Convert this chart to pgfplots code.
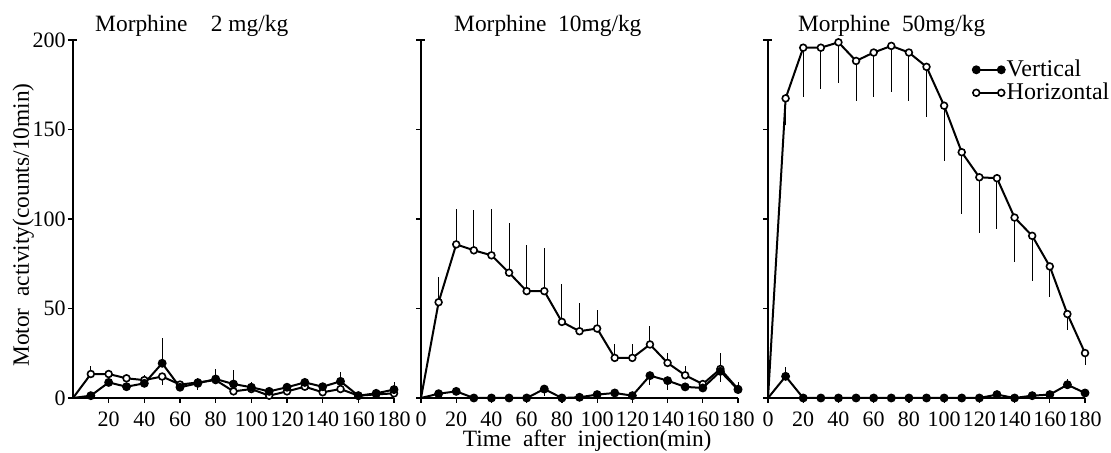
\documentclass[border=0pt]{standalone}
\usepackage{fontspec}
\setmainfont{Liberation Serif}
\usepackage{pgfplots}
\usepackage{pgfplotstable}
\pgfplotsset{compat=1.18}

% t = min after injection; V/H = vertical/horizontal counts, p/m = error up/down
\pgfplotstableread{
t   V    Vp  Vm  H     Hp   Hm
0   0    0   0   0     0    0
10  1.3  0   0   13.4  4.5  0
20  8.7  0   0   13.4  2    0
30  6.3  0   0   11    2    0
40  8.2  0   0   10    3    0
50  19.4 14  0   12    0    5
60  6    2   0   7.5   0    0
70  8.2  3   4   8.7   0    0
80  10.6 5.5 0   10    0    0
90  7.8  8   0   3.7   0    0
100 6    3   0   5     0    0
110 3.7  0   0   1.3   0    0
120 6    2.5 0   3.7   0    0
130 8.7  2   0   6.3   0    0
140 6.3  0   0   3.2   0    0
150 9.3  5   0   5     0    0
160 1.3  0   0   1.3   0    0
170 2.6  0   0   2     0    0
180 4.7  4   0   2.6   0    0
}\dataA

\pgfplotstableread{
t   V    Vp  Vm  H     Hp   Hm
0   0    0   0   0     0    0
10  2.4  0   0   53.5  14   0
20  3.7  0   0   85.8  20   0
30  0    0   0   82.5  22.5 0
40  0    0   0   79.7  25.7 0
50  0    0   0   70    28   0
60  0    0   0   59.7  26   0
70  5    0   4   59.7  24   0
80  0    0   0   42.5  21   0
90  0.4  0   0   37.3  16   0
100 1.9  0   0   38.8  10.5 0
110 2.8  0   0   22.4  7.8  0
120 1.3  0   0   22.4  7.5  0
130 12.5 0   5   29.9  10.2 0
140 9.7  0   5   19.6  5.6  0
150 6.2  0   0   12.7  5    0
160 5.6  0   0   7.8   1.5  0
170 14.9 0   6   16.2  9    0
180 4.7  4   0   5     0    0
}\dataB

\pgfplotstableread{
t   V    Vp  Vm  H     Hp   Hm
0   0    0   0   0     0    0
10  12.1 5   0   167.4 0    15
20  0    0   0   195.7 0    27.7
30  0    0   0   195.7 0    23
40  0    0   0   198.7 0    23
50  0    0   0   188.3 0    22.3
60  0    0   0   193   0    24.6
70  0    0   0   196.7 0    25.7
80  0    0   0   193   0    27
90  0    0   0   185   0    27.8
100 0    0   0   163.3 0    30.8
110 0    0   0   137.3 0    34.6
120 0    0   0   123.3 0    31.3
130 1.9  0   0   122.8 0    28.3
140 0    0   0   100.8 0    25.1
150 1.3  0   0   90.6  0    25.5
160 1.9  0   0   73.5  0    16.8
170 7.4  3   0   46.9  0    8.9
180 2.8  0   0   25.1  0    6.5
}\dataC

\tikzset{
  ttl/.style={anchor=base, yshift=4pt, font=\fontsize{11.7}{14}\selectfont},
  lbl/.style={font=\fontsize{11.7}{14}\selectfont},
}

\pgfplotsset{
  panel/.style={
    scale only axis, height=179pt, anchor=south west,
    xmin=0, xmax=180, ymin=0, ymax=200, clip=false,
    axis x line*=bottom, axis y line*=left,
    axis line style={line width=0.85pt},
    tick align=outside, major tick length=2.5pt,
    tick style={black, line width=0.6pt},
    ytick={0,50,...,200},
    extra y ticks={200}, extra y tick labels={},
    extra y tick style={tick align=inside, major tick length=2pt},
    tick label style={font=\fontsize{11}{13}\selectfont},
    /pgf/number format/assume math mode=true,
    yticklabel style={inner sep=1pt},
    xticklabel style={yshift=-1pt},
    legend image code/.code={
      \draw[##1, mark repeat=1, mark phase=1] plot coordinates {(0pt,0pt) (12.5pt,0pt)};
    },
  },
  errs/.style={error bars/.cd, y dir=both, y explicit, error mark=none,
    error bar style={line width=0.5pt, black}},
  hser/.style={black, line width=1pt, mark=*, mark phase=2, mark size=1.7pt,
    mark options={fill=white, draw=black, line width=0.8pt}, errs},
  vser/.style={black, line width=1pt, mark=*, mark phase=2, mark size=1.7pt,
    mark options={fill=black, draw=black}, errs},
}

\begin{document}
\begin{tikzpicture}

\begin{axis}[panel, at={(36.5pt,27.5pt)}, width=160.5pt,
  xtick={20,40,...,180},
  ylabel={Motor\ \ activity(counts/10min)},
  ylabel style={at={(axis description cs:-0.155,0.483)}, anchor=center, lbl}]
\addplot[hser] table[x=t, y=H, y error plus=Hp, y error minus=Hm] {\dataA};
\addplot[vser] table[x=t, y=V, y error plus=Vp, y error minus=Vm] {\dataA};
\node[ttl] at (rel axis cs:0.37,1) {Morphine\quad 2 mg/kg};
\end{axis}

\begin{axis}[panel, at={(210.5pt,27.5pt)}, width=158.5pt,
  xtick={0,20,...,180}, yticklabels={}]
\addplot[hser] table[x=t, y=H, y error plus=Hp, y error minus=Hm] {\dataB};
\addplot[vser] table[x=t, y=V, y error plus=Vp, y error minus=Vm] {\dataB};
\node[ttl] at (rel axis cs:0.40,1) {Morphine\ \ 10mg/kg};
\node[lbl, anchor=center, yshift=-21.5pt] at (rel axis cs:0.524,0)
  {Time\ \ after\ \ injection(min)};
\end{axis}

\begin{axis}[panel, at={(384pt,27.5pt)}, width=158.5pt,
  xtick={0,20,...,180}, yticklabels={},
  reverse legend,
  legend style={at={(0.645,0.95)}, anchor=north west, draw=none, fill=none,
    font=\fontsize{12}{13}\selectfont, inner sep=0pt, row sep=0pt,
    nodes={inner sep=1pt, text height=8pt, text depth=1.5pt}},
  legend cell align=left]
\addplot[hser] table[x=t, y=H, y error plus=Hp, y error minus=Hm] {\dataC};
\addlegendentry{Horizontal}
\addplot[vser] table[x=t, y=V, y error plus=Vp, y error minus=Vm] {\dataC};
\addlegendentry{Vertical}
\node[ttl] at (rel axis cs:0.39,1) {Morphine\ \ 50mg/kg};
\end{axis}

\pgfresetboundingbox
\path (0,0) rectangle (555.5pt,226.5pt);
\end{tikzpicture}
\end{document}
